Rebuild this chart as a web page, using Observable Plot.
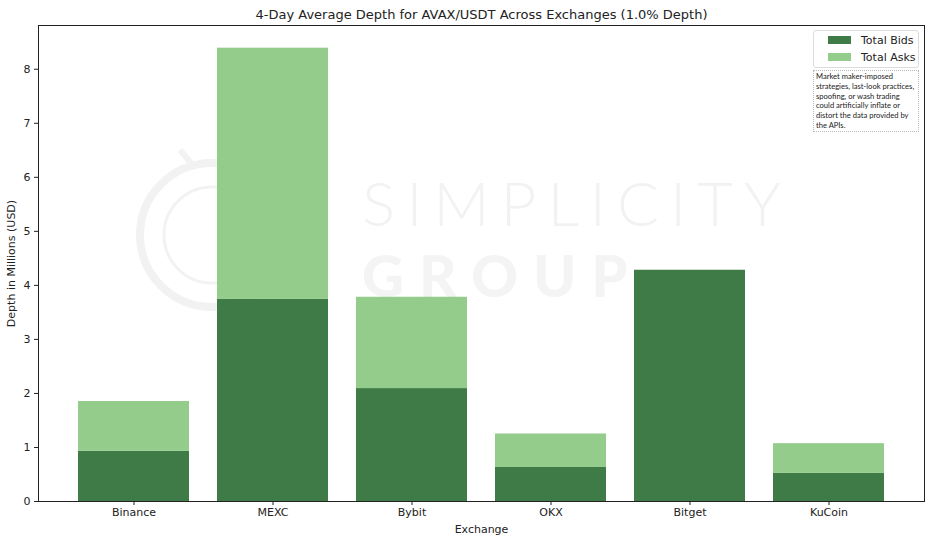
<!DOCTYPE html>
<html>
<head>
<meta charset="utf-8">
<script src="https://cdn.jsdelivr.net/npm/d3@7"></script>
<script src="https://cdn.jsdelivr.net/npm/@observablehq/plot@0.6"></script>
<style>
  html, body { margin: 0; padding: 0; background: #fff; }
  #wrap { position: relative; width: 939px; height: 542px; font-family: "DejaVu Sans", sans-serif; }
  #wm { position: absolute; left: 0; top: 0; pointer-events: none; }
  #legend { position: absolute; left: 813px; top: 30px; width: 106px; height: 38px; border: 1px solid #ddd; border-radius: 3px; background: rgba(255,255,255,0.8); font-size: 11px; color: #222; box-sizing: border-box; }
  .li { position: absolute; left: 14px; height: 12px; display: flex; align-items: center; }
  .sw { width: 23px; height: 8px; margin-right: 10px; }
  #note { position: absolute; left: 813px; top: 70px; width: 106px; height: 62px; border: 1px dotted #bbb; font-family: Lato, "Noto Sans", sans-serif; font-size: 7.6px; line-height: 9.8px; color: #222; padding: 1px 2px; box-sizing: border-box; background: #fff; white-space: nowrap; overflow: hidden; }
</style>
</head>
<body>
<div id="wrap"></div>
<script>
const exchanges = ["Binance", "MEXC", "Bybit", "OKX", "Bitget", "KuCoin"];
const totalBids = [0.93, 3.74, 2.09, 0.63, 4.28, 0.52];
const totalAsks = [0.92, 4.65, 1.69, 0.62, 0.0, 0.55];
const seriesNames = ["Total Bids", "Total Asks"];
const seriesColors = ["#3f7b46", "#93cc8b"];
const yTicks = [0, 1, 2, 3, 4, 5, 6, 7, 8];
const noteLines = ["Market maker-imposed", "strategies, last-look practices,", "spoofing, or wash trading", "could artificially inflate or", "distort the data provided by", "the APIs."];

const rows = [];
exchanges.forEach((ex, i) => {
  rows.push({exchange: ex, series: seriesNames[0], value: totalBids[i]});
  rows.push({exchange: ex, series: seriesNames[1], value: totalAsks[i]});
});

const chart = Plot.plot({
  width: 939,
  height: 542,
  marginTop: 25,
  marginLeft: 38,
  marginRight: 15,
  marginBottom: 41,
  style: {fontFamily: "DejaVu Sans, sans-serif", fontSize: "11px", color: "#222", background: "transparent"},
  x: {domain: exchanges, paddingInner: 0.2, paddingOuter: 0.287, label: "Exchange", labelAnchor: "center", labelOffset: 31, labelArrow: "none", tickSize: 4, tickPadding: 3},
  y: {domain: [0, 8.81], ticks: yTicks, label: "Depth in Millions (USD)", labelAnchor: "center", labelOffset: 31, labelArrow: "none", tickSize: 4, tickPadding: 4, tickFormat: d3.format("d")},
  color: {domain: seriesNames, range: seriesColors},
  marks: [
    Plot.barY(rows, Plot.stackY({x: "exchange", y: "value", fill: "series", order: seriesNames})),
    Plot.frame({stroke: "#222", strokeWidth: 1}),
    Plot.text(["4-Day Average Depth for AVAX/USDT Across Exchanges (1.0% Depth)"], {frameAnchor: "top", dy: -16, fontSize: 13, fill: "#222"})
  ]
});
chart.style.position = "absolute";
chart.style.left = "0px";
chart.style.top = "0px";

const wrap = document.getElementById("wrap");

// faint watermark behind the bars
const wm = document.createElementNS("http://www.w3.org/2000/svg", "svg");
wm.setAttribute("id", "wm");
wm.setAttribute("width", 939);
wm.setAttribute("height", 542);
wm.innerHTML = `
  <g fill="none" stroke="#f2f2f2">
    <circle cx="212" cy="235" r="72" stroke-width="8"/>
    <circle cx="212" cy="235" r="48" stroke-width="3"/>
    <line x1="180" y1="150" x2="195" y2="168" stroke-width="6"/>
  </g>
  <text x="362" y="226" font-family="Lato, sans-serif" font-weight="300" font-size="62" letter-spacing="11" fill="#f2f2f2">SIMPLICITY</text>
  <text x="362" y="297" font-family="Lato, sans-serif" font-weight="900" font-size="58" letter-spacing="15" fill="#f4f4f4">GROUP</text>`;
wrap.appendChild(wm);
wrap.appendChild(chart);

const legend = document.createElement("div");
legend.id = "legend";
seriesNames.forEach((s, i) => {
  const li = document.createElement("div");
  li.className = "li";
  li.style.top = (3 + i * 17) + "px";
  li.innerHTML = `<div class="sw" style="background:${seriesColors[i]}"></div><span>${s}</span>`;
  legend.appendChild(li);
});
wrap.appendChild(legend);

const note = document.createElement("div");
note.id = "note";
note.innerHTML = noteLines.join("<br>");
wrap.appendChild(note);
</script>
</body>
</html>
